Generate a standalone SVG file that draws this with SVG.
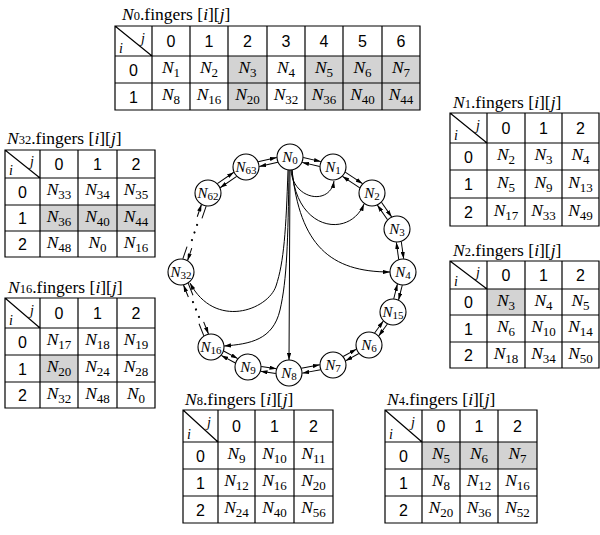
<svg xmlns="http://www.w3.org/2000/svg" width="600" height="535" viewBox="0 0 600 535">
<style>
text{font-family:"Liberation Serif","Times New Roman",serif;fill:#000}
.c{font-size:17.5px;text-anchor:middle}
.i{font-style:italic}
.s{font-size:13px}
.h{font-family:"Liberation Sans",Arial,sans-serif;font-size:16px;text-anchor:middle}
.tt{font-size:17.5px}
.ts{font-size:12.5px}
.dg{font-size:14px;font-style:italic}
.g{fill:none;stroke:#000;stroke-width:1.2}
.gy{fill:#d3d3d3}
.nd circle{fill:#fff;stroke:#000;stroke-width:1.1}
.nl{font-size:15px;text-anchor:middle}
.ns{font-size:11px}
.e line,.e path{fill:none;stroke:#000;stroke-width:1}
.dot{fill:#000}
</style>
<defs>
<marker id="ah" viewBox="0 0 10 6" refX="10" refY="3" markerWidth="7" markerHeight="4.2" markerUnits="userSpaceOnUse" orient="auto"><path d="M0,0L10,3L0,6Z" fill="#000"/></marker>
</defs>

<!-- N0 table -->
<g id="t-n0">
<text class="tt" x="122" y="20"><tspan class="i">N</tspan><tspan class="ts">0</tspan>.fingers [<tspan class="i">i</tspan>][<tspan class="i">j</tspan>]</text>
<rect class="gy" x="228" y="56" width="39" height="54"/>
<rect class="gy" x="305" y="56" width="115" height="54"/>
<path class="g" d="M115,26H420V110H115Z M115,56H420 M115,83H420 M152,26V110 M190,26V110 M228,26V110 M267,26V110 M305,26V110 M343,26V110 M382,26V110 M115,26L152,56"/>
<text class="dg" x="141" y="43">j</text><text class="dg" x="119" y="53">i</text>
<text class="h" y="47"><tspan x="171">0</tspan><tspan x="209">1</tspan><tspan x="247.5">2</tspan><tspan x="286">3</tspan><tspan x="324">4</tspan><tspan x="362.5">5</tspan><tspan x="401">6</tspan></text>
<text class="h" x="133.5" y="75.5">0</text><text class="h" x="133.5" y="102.5">1</text>
<text class="c" x="171" y="73"><tspan class="i">N</tspan><tspan class="s" dy="4">1</tspan></text>
<text class="c" x="209" y="73"><tspan class="i">N</tspan><tspan class="s" dy="4">2</tspan></text>
<text class="c" x="247.5" y="73"><tspan class="i">N</tspan><tspan class="s" dy="4">3</tspan></text>
<text class="c" x="286" y="73"><tspan class="i">N</tspan><tspan class="s" dy="4">4</tspan></text>
<text class="c" x="324" y="73"><tspan class="i">N</tspan><tspan class="s" dy="4">5</tspan></text>
<text class="c" x="362.5" y="73"><tspan class="i">N</tspan><tspan class="s" dy="4">6</tspan></text>
<text class="c" x="401" y="73"><tspan class="i">N</tspan><tspan class="s" dy="4">7</tspan></text>
<text class="c" x="171" y="100"><tspan class="i">N</tspan><tspan class="s" dy="4">8</tspan></text>
<text class="c" x="209" y="100"><tspan class="i">N</tspan><tspan class="s" dy="4">16</tspan></text>
<text class="c" x="247.5" y="100"><tspan class="i">N</tspan><tspan class="s" dy="4">20</tspan></text>
<text class="c" x="286" y="100"><tspan class="i">N</tspan><tspan class="s" dy="4">32</tspan></text>
<text class="c" x="324" y="100"><tspan class="i">N</tspan><tspan class="s" dy="4">36</tspan></text>
<text class="c" x="362.5" y="100"><tspan class="i">N</tspan><tspan class="s" dy="4">40</tspan></text>
<text class="c" x="401" y="100"><tspan class="i">N</tspan><tspan class="s" dy="4">44</tspan></text>
</g>

<!-- N1 table -->
<g id="t-n1">
<text class="tt" x="453" y="108"><tspan class="i">N</tspan><tspan class="ts">1</tspan>.fingers [<tspan class="i">i</tspan>][<tspan class="i">j</tspan>]</text>
<path class="g" d="M450,113H599V226H450Z M450,143H599 M450,170H599 M450,198H599 M487,113V226 M525,113V226 M562,113V226 M450,113L487,143"/>
<text class="dg" x="476" y="130">j</text><text class="dg" x="454" y="140">i</text>
<text class="h" y="134"><tspan x="506">0</tspan><tspan x="543.5">1</tspan><tspan x="580.5">2</tspan></text>
<text class="h" x="468.5" y="162.5">0</text><text class="h" x="468.5" y="190">1</text><text class="h" x="468.5" y="218">2</text>
<text class="c" x="506" y="160"><tspan class="i">N</tspan><tspan class="s" dy="4">2</tspan></text>
<text class="c" x="543.5" y="160"><tspan class="i">N</tspan><tspan class="s" dy="4">3</tspan></text>
<text class="c" x="580.5" y="160"><tspan class="i">N</tspan><tspan class="s" dy="4">4</tspan></text>
<text class="c" x="506" y="187.5"><tspan class="i">N</tspan><tspan class="s" dy="4">5</tspan></text>
<text class="c" x="543.5" y="187.5"><tspan class="i">N</tspan><tspan class="s" dy="4">9</tspan></text>
<text class="c" x="580.5" y="187.5"><tspan class="i">N</tspan><tspan class="s" dy="4">13</tspan></text>
<text class="c" x="506" y="215.5"><tspan class="i">N</tspan><tspan class="s" dy="4">17</tspan></text>
<text class="c" x="543.5" y="215.5"><tspan class="i">N</tspan><tspan class="s" dy="4">33</tspan></text>
<text class="c" x="580.5" y="215.5"><tspan class="i">N</tspan><tspan class="s" dy="4">49</tspan></text>
</g>

<!-- N2 table -->
<g id="t-n2">
<text class="tt" x="453" y="256"><tspan class="i">N</tspan><tspan class="ts">2</tspan>.fingers [<tspan class="i">i</tspan>][<tspan class="i">j</tspan>]</text>
<rect class="gy" x="487" y="289" width="38" height="26"/>
<path class="g" d="M450,261H599V368H450Z M450,289H599 M450,315H599 M450,342H599 M487,261V368 M525,261V368 M562,261V368 M450,261L487,289"/>
<text class="dg" x="476" y="277">j</text><text class="dg" x="454" y="286">i</text>
<text class="h" y="281"><tspan x="506">0</tspan><tspan x="543.5">1</tspan><tspan x="580.5">2</tspan></text>
<text class="h" x="468.5" y="308">0</text><text class="h" x="468.5" y="334.5">1</text><text class="h" x="468.5" y="361">2</text>
<text class="c" x="506" y="305.5"><tspan class="i">N</tspan><tspan class="s" dy="4">3</tspan></text>
<text class="c" x="543.5" y="305.5"><tspan class="i">N</tspan><tspan class="s" dy="4">4</tspan></text>
<text class="c" x="580.5" y="305.5"><tspan class="i">N</tspan><tspan class="s" dy="4">5</tspan></text>
<text class="c" x="506" y="332"><tspan class="i">N</tspan><tspan class="s" dy="4">6</tspan></text>
<text class="c" x="543.5" y="332"><tspan class="i">N</tspan><tspan class="s" dy="4">10</tspan></text>
<text class="c" x="580.5" y="332"><tspan class="i">N</tspan><tspan class="s" dy="4">14</tspan></text>
<text class="c" x="506" y="358.5"><tspan class="i">N</tspan><tspan class="s" dy="4">18</tspan></text>
<text class="c" x="543.5" y="358.5"><tspan class="i">N</tspan><tspan class="s" dy="4">34</tspan></text>
<text class="c" x="580.5" y="358.5"><tspan class="i">N</tspan><tspan class="s" dy="4">50</tspan></text>
</g>

<!-- N32 table -->
<g id="t-n32">
<text class="tt" x="7" y="144"><tspan class="i">N</tspan><tspan class="ts">32</tspan>.fingers [<tspan class="i">i</tspan>][<tspan class="i">j</tspan>]</text>
<rect class="gy" x="40" y="205" width="115" height="26"/>
<path class="g" d="M5,150H155V257H5Z M5,178H155 M5,205H155 M5,231H155 M40,150V257 M78,150V257 M117,150V257 M5,150L40,178"/>
<text class="dg" x="30" y="166">j</text><text class="dg" x="9" y="175">i</text>
<text class="h" y="170"><tspan x="59">0</tspan><tspan x="97.5">1</tspan><tspan x="136">2</tspan></text>
<text class="h" x="22.5" y="197.5">0</text><text class="h" x="22.5" y="224">1</text><text class="h" x="22.5" y="250">2</text>
<text class="c" x="59" y="195"><tspan class="i">N</tspan><tspan class="s" dy="4">33</tspan></text>
<text class="c" x="97.5" y="195"><tspan class="i">N</tspan><tspan class="s" dy="4">34</tspan></text>
<text class="c" x="136" y="195"><tspan class="i">N</tspan><tspan class="s" dy="4">35</tspan></text>
<text class="c" x="59" y="221.5"><tspan class="i">N</tspan><tspan class="s" dy="4">36</tspan></text>
<text class="c" x="97.5" y="221.5"><tspan class="i">N</tspan><tspan class="s" dy="4">40</tspan></text>
<text class="c" x="136" y="221.5"><tspan class="i">N</tspan><tspan class="s" dy="4">44</tspan></text>
<text class="c" x="59" y="247.5"><tspan class="i">N</tspan><tspan class="s" dy="4">48</tspan></text>
<text class="c" x="97.5" y="247.5"><tspan class="i">N</tspan><tspan class="s" dy="4">0</tspan></text>
<text class="c" x="136" y="247.5"><tspan class="i">N</tspan><tspan class="s" dy="4">16</tspan></text>
</g>

<!-- N16 table -->
<g id="t-n16">
<text class="tt" x="8" y="293"><tspan class="i">N</tspan><tspan class="ts">16</tspan>.fingers [<tspan class="i">i</tspan>][<tspan class="i">j</tspan>]</text>
<rect class="gy" x="40" y="355" width="38" height="27"/>
<path class="g" d="M5,298H155V408H5Z M5,328H155 M5,355H155 M5,382H155 M40,298V408 M78,298V408 M117,298V408 M5,298L40,328"/>
<text class="dg" x="30" y="315">j</text><text class="dg" x="9" y="325">i</text>
<text class="h" y="319"><tspan x="59">0</tspan><tspan x="97.5">1</tspan><tspan x="136">2</tspan></text>
<text class="h" x="22.5" y="347.5">0</text><text class="h" x="22.5" y="374.5">1</text><text class="h" x="22.5" y="401">2</text>
<text class="c" x="59" y="345"><tspan class="i">N</tspan><tspan class="s" dy="4">17</tspan></text>
<text class="c" x="97.5" y="345"><tspan class="i">N</tspan><tspan class="s" dy="4">18</tspan></text>
<text class="c" x="136" y="345"><tspan class="i">N</tspan><tspan class="s" dy="4">19</tspan></text>
<text class="c" x="59" y="372"><tspan class="i">N</tspan><tspan class="s" dy="4">20</tspan></text>
<text class="c" x="97.5" y="372"><tspan class="i">N</tspan><tspan class="s" dy="4">24</tspan></text>
<text class="c" x="136" y="372"><tspan class="i">N</tspan><tspan class="s" dy="4">28</tspan></text>
<text class="c" x="59" y="398.5"><tspan class="i">N</tspan><tspan class="s" dy="4">32</tspan></text>
<text class="c" x="97.5" y="398.5"><tspan class="i">N</tspan><tspan class="s" dy="4">48</tspan></text>
<text class="c" x="136" y="398.5"><tspan class="i">N</tspan><tspan class="s" dy="4">0</tspan></text>
</g>

<!-- N8 table -->
<g id="t-n8">
<text class="tt" x="185" y="405"><tspan class="i">N</tspan><tspan class="ts">8</tspan>.fingers [<tspan class="i">i</tspan>][<tspan class="i">j</tspan>]</text>
<path class="g" d="M183,410H333V523H183Z M183,442H333 M183,469H333 M183,496H333 M218,410V523 M255,410V523 M294,410V523 M183,410L218,442"/>
<text class="dg" x="207" y="427">j</text><text class="dg" x="187" y="439">i</text>
<text class="h" y="432"><tspan x="236.5">0</tspan><tspan x="274.5">1</tspan><tspan x="313.5">2</tspan></text>
<text class="h" x="200.5" y="461.5">0</text><text class="h" x="200.5" y="488.5">1</text><text class="h" x="200.5" y="515.5">2</text>
<text class="c" x="236.5" y="459"><tspan class="i">N</tspan><tspan class="s" dy="4">9</tspan></text>
<text class="c" x="274.5" y="459"><tspan class="i">N</tspan><tspan class="s" dy="4">10</tspan></text>
<text class="c" x="313.5" y="459"><tspan class="i">N</tspan><tspan class="s" dy="4">11</tspan></text>
<text class="c" x="236.5" y="486"><tspan class="i">N</tspan><tspan class="s" dy="4">12</tspan></text>
<text class="c" x="274.5" y="486"><tspan class="i">N</tspan><tspan class="s" dy="4">16</tspan></text>
<text class="c" x="313.5" y="486"><tspan class="i">N</tspan><tspan class="s" dy="4">20</tspan></text>
<text class="c" x="236.5" y="513"><tspan class="i">N</tspan><tspan class="s" dy="4">24</tspan></text>
<text class="c" x="274.5" y="513"><tspan class="i">N</tspan><tspan class="s" dy="4">40</tspan></text>
<text class="c" x="313.5" y="513"><tspan class="i">N</tspan><tspan class="s" dy="4">56</tspan></text>
</g>

<!-- N4 table -->
<g id="t-n4">
<text class="tt" x="387" y="405"><tspan class="i">N</tspan><tspan class="ts">4</tspan>.fingers [<tspan class="i">i</tspan>][<tspan class="i">j</tspan>]</text>
<rect class="gy" x="422" y="442" width="115" height="27"/>
<path class="g" d="M385,410H537V523H385Z M385,442H537 M385,469H537 M385,496H537 M422,410V523 M460,410V523 M498,410V523 M385,410L422,442"/>
<text class="dg" x="411" y="427">j</text><text class="dg" x="389" y="439">i</text>
<text class="h" y="432"><tspan x="441">0</tspan><tspan x="479">1</tspan><tspan x="517.5">2</tspan></text>
<text class="h" x="403.5" y="461.5">0</text><text class="h" x="403.5" y="488.5">1</text><text class="h" x="403.5" y="515.5">2</text>
<text class="c" x="441" y="459"><tspan class="i">N</tspan><tspan class="s" dy="4">5</tspan></text>
<text class="c" x="479" y="459"><tspan class="i">N</tspan><tspan class="s" dy="4">6</tspan></text>
<text class="c" x="517.5" y="459"><tspan class="i">N</tspan><tspan class="s" dy="4">7</tspan></text>
<text class="c" x="441" y="486"><tspan class="i">N</tspan><tspan class="s" dy="4">8</tspan></text>
<text class="c" x="479" y="486"><tspan class="i">N</tspan><tspan class="s" dy="4">12</tspan></text>
<text class="c" x="517.5" y="486"><tspan class="i">N</tspan><tspan class="s" dy="4">16</tspan></text>
<text class="c" x="441" y="513"><tspan class="i">N</tspan><tspan class="s" dy="4">20</tspan></text>
<text class="c" x="479" y="513"><tspan class="i">N</tspan><tspan class="s" dy="4">36</tspan></text>
<text class="c" x="517.5" y="513"><tspan class="i">N</tspan><tspan class="s" dy="4">52</tspan></text>
</g>

<!-- connectors -->
<g id="edges" class="e">
<g transform="translate(290,157) rotate(13.09)"><line x1="13" y1="-2.5" x2="31.15" y2="-2.5" marker-end="url(#ah)"/><line x1="31.15" y1="2.5" x2="13" y2="2.5" marker-end="url(#ah)"/></g>
<g transform="translate(333,167) rotate(33.69)"><line x1="13" y1="-2.5" x2="33.87" y2="-2.5" marker-end="url(#ah)"/><line x1="33.87" y1="2.5" x2="13" y2="2.5" marker-end="url(#ah)"/></g>
<g transform="translate(372,193) rotate(55.22)"><line x1="13" y1="-2.5" x2="30.83" y2="-2.5" marker-end="url(#ah)"/><line x1="30.83" y1="2.5" x2="13" y2="2.5" marker-end="url(#ah)"/></g>
<g transform="translate(397,229) rotate(82.06)"><line x1="13" y1="-2.5" x2="30.42" y2="-2.5" marker-end="url(#ah)"/><line x1="30.42" y1="2.5" x2="13" y2="2.5" marker-end="url(#ah)"/></g>
<g transform="translate(403,272) rotate(104.04)"><line x1="13" y1="-2.5" x2="28.23" y2="-2.5" marker-end="url(#ah)"/><line x1="28.23" y1="2.5" x2="13" y2="2.5" marker-end="url(#ah)"/></g>
<g transform="translate(393,312) rotate(126.03)"><line x1="13" y1="-2.5" x2="27.8" y2="-2.5" marker-end="url(#ah)"/><line x1="27.8" y1="2.5" x2="13" y2="2.5" marker-end="url(#ah)"/></g>
<g transform="translate(369,345) rotate(150.95)"><line x1="13" y1="-2.5" x2="28.18" y2="-2.5" marker-end="url(#ah)"/><line x1="28.18" y1="2.5" x2="13" y2="2.5" marker-end="url(#ah)"/></g>
<g transform="translate(333,365) rotate(169.7)"><line x1="13" y1="-2.5" x2="31.72" y2="-2.5" marker-end="url(#ah)"/><line x1="31.72" y1="2.5" x2="13" y2="2.5" marker-end="url(#ah)"/></g>
<g transform="translate(289,373) rotate(188.33)"><line x1="13" y1="-2.5" x2="28.44" y2="-2.5" marker-end="url(#ah)"/><line x1="28.44" y1="2.5" x2="13" y2="2.5" marker-end="url(#ah)"/></g>
<g transform="translate(248,367) rotate(208.39)"><line x1="13" y1="-2.5" x2="29.06" y2="-2.5" marker-end="url(#ah)"/><line x1="29.06" y1="2.5" x2="13" y2="2.5" marker-end="url(#ah)"/></g>
<g transform="translate(211,347) rotate(248.2)"><line x1="13" y1="-2.5" x2="26" y2="-2.5"/><line x1="54.8" y1="-2.5" x2="67.8" y2="-2.5" marker-end="url(#ah)"/><line x1="26" y1="2.5" x2="13" y2="2.5" marker-end="url(#ah)"/><line x1="67.8" y1="2.5" x2="54.8" y2="2.5"/><circle class="dot" cx="32.4" cy="0" r="1.1"/><circle class="dot" cx="40.4" cy="0" r="1.1"/><circle class="dot" cx="48.4" cy="0" r="1.1"/></g>
<g transform="translate(181,272) rotate(288.87)"><line x1="13" y1="-2.5" x2="26" y2="-2.5"/><line x1="57.5" y1="-2.5" x2="70.5" y2="-2.5" marker-end="url(#ah)"/><line x1="26" y1="2.5" x2="13" y2="2.5" marker-end="url(#ah)"/><line x1="70.5" y1="2.5" x2="57.5" y2="2.5"/><circle class="dot" cx="33.75" cy="0" r="1.1"/><circle class="dot" cx="41.75" cy="0" r="1.1"/><circle class="dot" cx="49.75" cy="0" r="1.1"/></g>
<g transform="translate(208,193) rotate(325.62)"><line x1="13" y1="-2.5" x2="33.04" y2="-2.5" marker-end="url(#ah)"/><line x1="33.04" y1="2.5" x2="13" y2="2.5" marker-end="url(#ah)"/></g>
<g transform="translate(246,167) rotate(347.2)"><line x1="13" y1="-2.5" x2="32.12" y2="-2.5" marker-end="url(#ah)"/><line x1="32.12" y1="2.5" x2="13" y2="2.5" marker-end="url(#ah)"/></g>
<path d="M291,170 C293,200 330,206 334,181" marker-end="url(#ah)"/>
<path d="M292,170 C296,232 350,238 364,204" marker-end="url(#ah)"/>
<path d="M292,170 C300,245 330,272 390,272" marker-end="url(#ah)"/>
<path d="M290,170 L289,360" marker-end="url(#ah)"/>
<path d="M289,170 C288,240 287,280 280,310 S250,344 224,346" marker-end="url(#ah)"/>
<path d="M288,170 C286,230 284,262 276,286 S215,330 190,283" marker-end="url(#ah)"/>
</g>

<!-- ring nodes -->
<g id="n0" class="nd"><circle cx="290" cy="157" r="13"/><text class="nl" x="290" y="161.5"><tspan class="i">N</tspan><tspan class="ns" dy="2.5">0</tspan></text></g>
<g id="n1" class="nd"><circle cx="333" cy="167" r="13"/><text class="nl" x="333" y="171.5"><tspan class="i">N</tspan><tspan class="ns" dy="2.5">1</tspan></text></g>
<g id="n2" class="nd"><circle cx="372" cy="193" r="13"/><text class="nl" x="372" y="197.5"><tspan class="i">N</tspan><tspan class="ns" dy="2.5">2</tspan></text></g>
<g id="n3" class="nd"><circle cx="397" cy="229" r="13"/><text class="nl" x="397" y="233.5"><tspan class="i">N</tspan><tspan class="ns" dy="2.5">3</tspan></text></g>
<g id="n4" class="nd"><circle cx="403" cy="272" r="13"/><text class="nl" x="403" y="276.5"><tspan class="i">N</tspan><tspan class="ns" dy="2.5">4</tspan></text></g>
<g id="n15" class="nd"><circle cx="393" cy="312" r="13"/><text class="nl" x="393" y="316.5"><tspan class="i">N</tspan><tspan class="ns" dy="2.5">15</tspan></text></g>
<g id="n6" class="nd"><circle cx="369" cy="345" r="13"/><text class="nl" x="369" y="349.5"><tspan class="i">N</tspan><tspan class="ns" dy="2.5">6</tspan></text></g>
<g id="n7" class="nd"><circle cx="333" cy="365" r="13"/><text class="nl" x="333" y="369.5"><tspan class="i">N</tspan><tspan class="ns" dy="2.5">7</tspan></text></g>
<g id="n8" class="nd"><circle cx="289" cy="373" r="13"/><text class="nl" x="289" y="377.5"><tspan class="i">N</tspan><tspan class="ns" dy="2.5">8</tspan></text></g>
<g id="n9" class="nd"><circle cx="248" cy="367" r="13"/><text class="nl" x="248" y="371.5"><tspan class="i">N</tspan><tspan class="ns" dy="2.5">9</tspan></text></g>
<g id="n16" class="nd"><circle cx="211" cy="347" r="13"/><text class="nl" x="211" y="351.5"><tspan class="i">N</tspan><tspan class="ns" dy="2.5">16</tspan></text></g>
<g id="n32" class="nd"><circle cx="181" cy="272" r="13"/><text class="nl" x="181" y="276.5"><tspan class="i">N</tspan><tspan class="ns" dy="2.5">32</tspan></text></g>
<g id="n62" class="nd"><circle cx="208" cy="193" r="13"/><text class="nl" x="208" y="197.5"><tspan class="i">N</tspan><tspan class="ns" dy="2.5">62</tspan></text></g>
<g id="n63" class="nd"><circle cx="246" cy="167" r="13"/><text class="nl" x="246" y="171.5"><tspan class="i">N</tspan><tspan class="ns" dy="2.5">63</tspan></text></g>
</svg>
